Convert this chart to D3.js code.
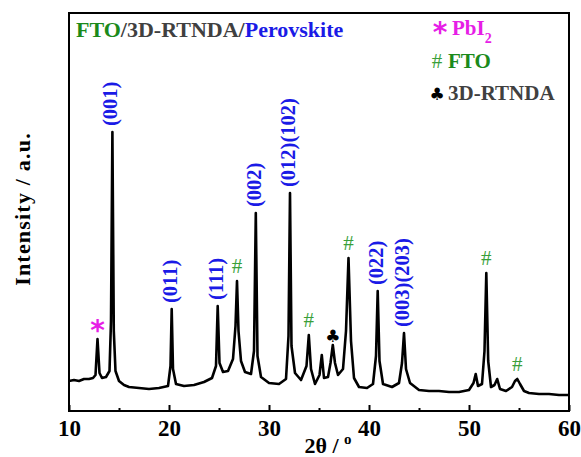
<!DOCTYPE html>
<html><head><meta charset="utf-8">
<script src="https://cdn.jsdelivr.net/npm/d3@7"></script>
<style>body{margin:0;background:#fff} svg{display:block}</style>
</head><body><svg id="c" width="581" height="457"></svg>
<script>
// ---- data (2θ in degrees, intensity in arbitrary units) ----
const twoTheta = [10.0,10.5,11.0,11.5,12.0,12.4,12.65,12.85,13.05,13.3,13.7,14.05,14.2,14.34,14.48,14.65,15.0,15.5,16.0,17.0,18.0,19.0,19.9,20.15,20.27,20.4,20.7,21.5,22.5,23.5,24.3,24.7,24.87,25.05,25.4,25.9,26.4,26.65,26.8,26.95,27.2,27.6,28.2,28.5,28.68,28.85,29.2,30.0,31.0,31.7,31.95,32.1,32.25,32.6,33.2,33.75,33.98,34.2,34.6,35.05,35.28,35.5,35.9,36.15,36.38,36.6,36.9,37.4,37.7,37.95,38.2,38.5,39.0,39.8,40.4,40.7,40.87,41.05,41.4,42.3,43.0,43.3,43.5,43.7,44.1,45.0,46.0,47.0,48.0,49.0,50.0,50.45,50.67,50.9,51.3,51.55,51.73,51.92,52.2,52.55,52.82,53.1,53.7,54.3,54.6,54.83,55.1,55.5,56.0,57.0,58.0,59.0,60.0];
const intensity = [30,31,30,32,32,33,36,72,38,33,34,40,90,279,80,40,30,26,24,23,22,23,25,45,102,42,27,25,26,29,33,45,105,48,39,40,52,85,130,80,50,39,37,60,198,55,34,28,27,32,75,218,65,38,31,45,76,42,27,36,56,33,34,48,66,48,36,42,80,153,70,33,24,23,27,55,120,50,27,24,28,48,78,42,28,21,20,20,19,19,21,28,37,25,27,60,138,50,24,26,32,22,20,24,30,32,27,20,18,17,17,16,16];

const xTicks = [10,20,30,40,50,60];
const xMinorTicks = [15,25,35,45,55];

const hklLabels = ["(001)","(011)","(111)","(002)","(012)(102)","(022)","(003)(203)"];
const hklAngles = [14.34,20.27,24.87,28.68,32.1,40.87,43.5];
const hklPeakI  = [279,102,105,198,218,120,78];

const markerSymbols = ["*","#","#","♣","#","#","#"];
const markerAngles  = [12.85,26.8,33.98,36.38,37.95,51.73,54.83];
const markerPeakI   = [72,130,76,66,153,138,32];

// ---- layout ----
const svg = d3.select("#c");
const L = 69, R = 569, T = 13, B = 411;
const x = d3.scaleLinear().domain([10,60]).range([L,R]);
const y = d3.scaleLinear().domain([0,398]).range([B,T]);
const serif = "'Liberation Serif','Times New Roman',serif";
const BLUE = "#1a1ae6", MAG = "#e61ee6", GREEN_L = "#3a9f3a", GREEN = "#1b8a1b", GRAY = "#404040";

// curve
const pts = twoTheta.map((t,i)=>[t,intensity[i]]);
svg.append("path").datum(pts)
  .attr("d", d3.line().x(d=>x(d[0])).y(d=>y(d[1])))
  .attr("fill","none").attr("stroke","#000").attr("stroke-width",2.6).attr("stroke-linejoin","round");

// frame
svg.append("rect").attr("x",L).attr("y",T).attr("width",R-L).attr("height",B-T)
  .attr("fill","none").attr("stroke","#000").attr("stroke-width",2);

// x axis ticks (inward)
const ax = svg.append("g").attr("transform",`translate(0,${B})`)
  .call(d3.axisBottom(x).tickValues(xTicks).tickSize(-6).tickFormat(d3.format("d")));
ax.select(".domain").remove();
ax.selectAll(".tick line").attr("stroke","#000").attr("stroke-width",2);
ax.selectAll(".tick text").attr("font-family",serif).attr("font-weight","bold")
  .attr("font-size",23).attr("fill","#000").attr("y",9).attr("dy","0.71em");
const axm = svg.append("g").attr("transform",`translate(0,${B})`)
  .call(d3.axisBottom(x).tickValues(xMinorTicks).tickSize(-3).tickFormat(""));
axm.select(".domain").remove();
axm.selectAll(".tick line").attr("stroke","#000").attr("stroke-width",2);

// axis titles
const xt = svg.append("text").attr("x",328).attr("y",453).attr("text-anchor","middle")
  .attr("font-family",serif).attr("font-weight","bold").attr("font-size",22).attr("fill","#000");
xt.append("tspan").text("2θ / ");
xt.append("tspan").attr("font-size",15).attr("dy",-9).text("o");

svg.append("text").attr("transform","translate(30,209) rotate(-90)").attr("text-anchor","middle")
  .attr("font-family",serif).attr("font-weight","bold").attr("font-size",22).attr("fill","#000")
  .attr("letter-spacing",1.2).text("Intensity / a.u.");

// hkl labels
hklLabels.forEach((lab,i)=>{
  svg.append("text")
    .attr("transform",`translate(${x(hklAngles[i])-2},${y(hklPeakI[i])-6}) rotate(-90)`)
    .attr("dominant-baseline","central")
    .attr("font-family",serif).attr("font-weight","bold").attr("font-size",20.5).attr("fill",BLUE)
    .text(lab);
});

// peak markers
markerSymbols.forEach((s,i)=>{
  const cx = x(markerAngles[i]), py = y(markerPeakI[i]);
  const t = svg.append("text").attr("x",cx).attr("text-anchor","middle").text(s);
  if (s === "*") {
    t.attr("y",py+1).attr("font-family","'DejaVu Sans'").attr("font-weight","bold").attr("font-size",28).attr("fill",MAG);
  } else if (s === "#") {
    t.attr("y",py-8).attr("font-family",serif).attr("font-size",21).attr("fill",GREEN_L);
  } else {
    t.attr("y",py-3).attr("font-family","'DejaVu Sans'").attr("font-size",17).attr("fill","#000");
  }
});

// title
const title = svg.append("text").attr("x",76).attr("y",37)
  .attr("font-family",serif).attr("font-weight","bold").attr("font-size",22);
title.append("tspan").attr("fill",GREEN).text("FTO");
title.append("tspan").attr("fill",GRAY).text("/3D-RTNDA/");
title.append("tspan").attr("fill",BLUE).text("Perovskite");

// legend
svg.append("text").attr("x",440).attr("y",42).attr("text-anchor","middle")
  .attr("font-family","'DejaVu Sans'").attr("font-weight","bold").attr("font-size",28).attr("fill",MAG).text("*");
const pb = svg.append("text").attr("x",452).attr("y",35)
  .attr("font-family",serif).attr("font-weight","bold").attr("font-size",21).attr("fill",MAG);
pb.append("tspan").text("PbI");
pb.append("tspan").attr("font-size",14).attr("dy",8).text("2");

svg.append("text").attr("x",437).attr("y",68).attr("text-anchor","middle")
  .attr("font-family",serif).attr("font-size",21).attr("fill",GREEN_L).text("#");
svg.append("text").attr("x",448).attr("y",68)
  .attr("font-family",serif).attr("font-weight","bold").attr("font-size",21).attr("fill",GREEN).text("FTO");

svg.append("text").attr("x",437).attr("y",100).attr("text-anchor","middle")
  .attr("font-family","'DejaVu Sans'").attr("font-size",17).attr("fill","#000").text("♣");
svg.append("text").attr("x",448).attr("y",100)
  .attr("font-family",serif).attr("font-weight","bold").attr("font-size",21).attr("fill",GRAY).text("3D-RTNDA");
</script>
</body></html>
